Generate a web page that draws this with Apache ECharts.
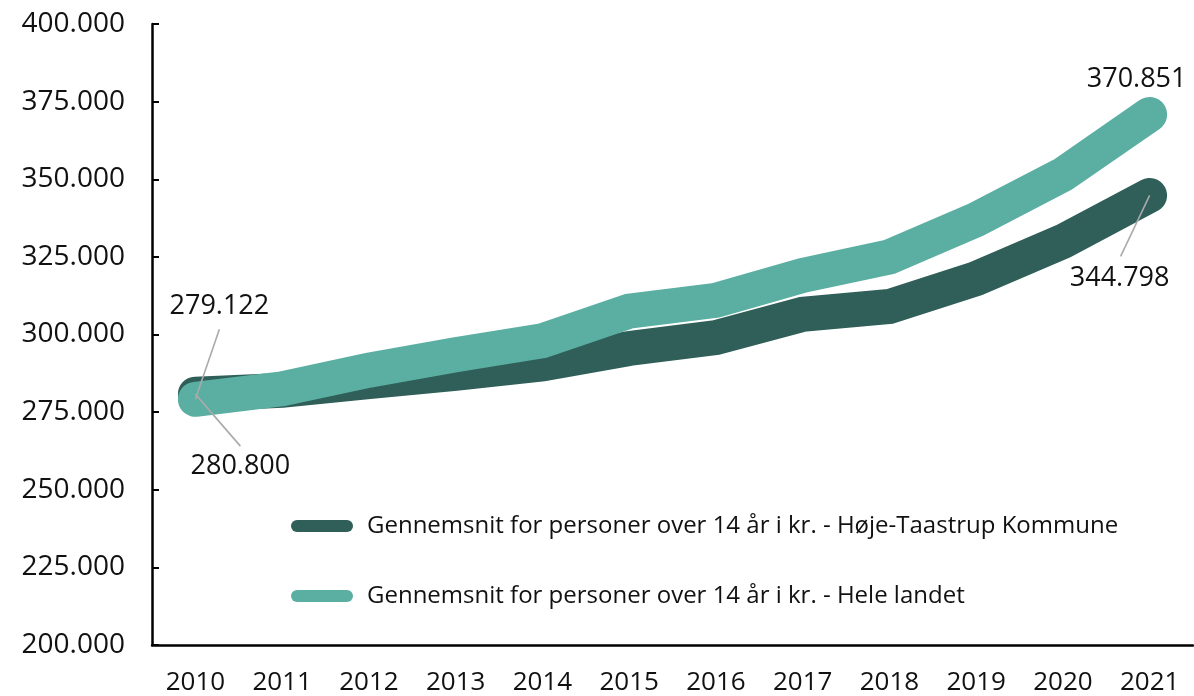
<!DOCTYPE html>
<html style="height: 100%">
<head>
    <meta charset="utf-8">
</head>
<body style="height: 100%; margin: 0; background: #fff">
    <div id="container" style="width: 1194px; height: 696px"></div>

    <script src="https://cdn.jsdelivr.net/npm/echarts@6/dist/echarts.min.js"></script>
    <script type="text/javascript">
        var years = ['2010', '2011', '2012', '2013', '2014', '2015', '2016', '2017', '2018', '2019', '2020', '2021'];
        var kommuneName = 'Gennemsnit for personer over 14 år i kr. - Høje-Taastrup Kommune';
        var landetName = 'Gennemsnit for personer over 14 år i kr. - Hele landet';
        var kommune = [280800, 282000, 284800, 287500, 290500, 295500, 299000, 306500, 309000, 318000, 330000, 344798];
        var landet = [279122, 282500, 288500, 293500, 298000, 307500, 311000, 319000, 325000, 337000, 351500, 370851];
        // the four values written on the chart
        var calloutYears = ['2010', '2010', '2021', '2021'];
        var calloutValues = [279122, 280800, 370851, 344798];

        var dark = '#2f5f58';
        var teal = '#5aafa2';
        var font = 'Open Sans';

        // pixel offsets of each callout text and of the end of its leader line
        var calloutText = [[24, -93], [45, 72], [-13, -35], [-30, 83]];
        var calloutLine = [[24, -70], [45, 52], null, [-29, 61]];

        function fmt(v) {
            return String(v).replace(/\B(?=(\d{3})+(?!\d))/g, '.');
        }

        var dom = document.getElementById('container');
        var myChart = echarts.init(dom);

        var legendIcon = 'path://M6,0 H56 A6,6 0 0 1 56,12 H6 A6,6 0 0 1 6,0 Z';

        var option = {
            animation: false,
            backgroundColor: '#fff',
            textStyle: { fontFamily: font },
            grid: { left: 152, right: 1, top: 24, bottom: 49 },
            legend: {
                orient: 'vertical',
                left: 286,
                top: 509,
                itemWidth: 62,
                itemHeight: 12,
                itemGap: 46,
                textStyle: { fontSize: 24, color: '#111', fontFamily: font, padding: [0, 0, 0, 9] },
                data: [
                    { name: kommuneName, icon: legendIcon, itemStyle: { color: dark } },
                    { name: landetName, icon: legendIcon, itemStyle: { color: teal } }
                ]
            },
            xAxis: {
                type: 'category',
                data: years,
                axisLine: { lineStyle: { color: '#000', width: 2.5 } },
                axisTick: { inside: true, length: 7, lineStyle: { color: '#000', width: 2 } },
                axisLabel: { fontSize: 26, color: '#111', margin: 25, fontFamily: font }
            },
            yAxis: {
                type: 'value',
                min: 200000,
                max: 400000,
                interval: 25000,
                splitLine: { show: false },
                axisLine: { show: true, lineStyle: { color: '#000', width: 2.5 } },
                axisTick: { show: true, inside: true, length: 7, lineStyle: { color: '#000', width: 2 } },
                axisLabel: { fontSize: 28, color: '#111', margin: 27, fontFamily: font, formatter: fmt }
            },
            series: [
                {
                    name: kommuneName,
                    type: 'line',
                    data: kommune,
                    showSymbol: false,
                    color: dark,
                    lineStyle: { width: 35, color: dark, cap: 'round', join: 'miter' },
                    z: 2
                },
                {
                    name: landetName,
                    type: 'line',
                    data: landet,
                    showSymbol: false,
                    color: teal,
                    lineStyle: { width: 35, color: teal, cap: 'round', join: 'miter' },
                    z: 3
                },
                {
                    name: 'labels',
                    type: 'custom',
                    z: 5,
                    silent: true,
                    data: calloutYears.map(function (y, i) {
                        return [y, calloutValues[i]];
                    }),
                    renderItem: function (params, api) {
                        var i = params.dataIndex;
                        var pt = api.coord([api.value(0), api.value(1)]);
                        var t = calloutText[i];
                        var l = calloutLine[i];
                        var children = [{
                            type: 'text',
                            x: pt[0] + t[0],
                            y: pt[1] + t[1],
                            style: {
                                text: fmt(calloutValues[i]),
                                fill: '#111',
                                font: '27px "' + font + '"',
                                align: 'center',
                                verticalAlign: 'middle'
                            }
                        }];
                        if (l) {
                            children.push({
                                type: 'line',
                                shape: { x1: pt[0], y1: pt[1], x2: pt[0] + l[0], y2: pt[1] + l[1] },
                                style: { stroke: '#aaa', lineWidth: 1.6 }
                            });
                        }
                        return { type: 'group', children: children };
                    }
                }
            ]
        };

        myChart.setOption(option);
    </script>
</body>
</html>
